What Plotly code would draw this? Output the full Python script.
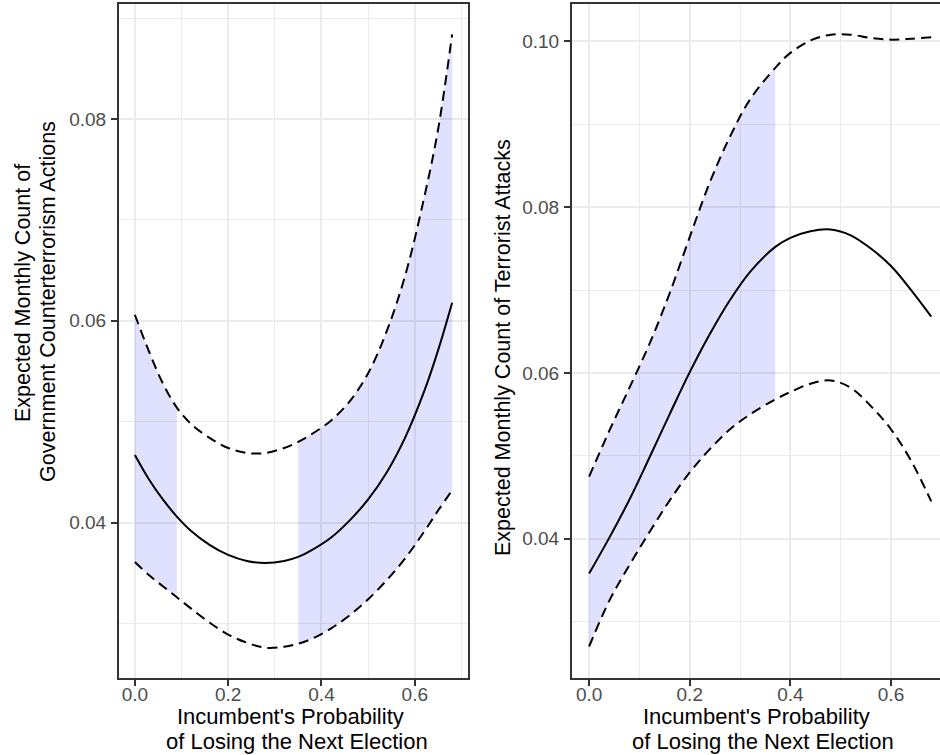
import plotly.graph_objects as go

# ---------------- data ----------------
# Left panel: government counterterrorism actions
left_x = [0.00, 0.03, 0.06, 0.09, 0.12, 0.16, 0.20, 0.24, 0.28, 0.32,
          0.35, 0.38, 0.42, 0.46, 0.50, 0.54, 0.58, 0.62, 0.65, 0.68]
left_mean = [0.0467, 0.0443, 0.0423, 0.0406, 0.0392, 0.0378, 0.0368, 0.0362, 0.0360, 0.0362,
             0.0366, 0.0373, 0.0385, 0.0402, 0.0423, 0.0450, 0.0485, 0.0530, 0.0571, 0.0618]
left_upper = [0.0606, 0.0570, 0.0538, 0.0514, 0.0498, 0.0484, 0.0474, 0.0469, 0.0469, 0.0474,
              0.0480, 0.0488, 0.0501, 0.0520, 0.0548, 0.0590, 0.0646, 0.0722, 0.0790, 0.0884]
left_lower = [0.0361, 0.0348, 0.0337, 0.0326, 0.0315, 0.0301, 0.0289, 0.0281, 0.0276, 0.0277,
              0.0280, 0.0285, 0.0295, 0.0308, 0.0324, 0.0343, 0.0365, 0.0391, 0.0412, 0.0432]
left_sig_ranges = [(0.00, 0.09), (0.35, 0.68)]

# Right panel: terrorist attacks
right_x = [0.00, 0.04, 0.08, 0.12, 0.16, 0.20, 0.24, 0.28, 0.32,
           0.37, 0.40, 0.44, 0.48, 0.52, 0.56, 0.60, 0.64, 0.68]
right_mean = [0.0358, 0.0401, 0.0447, 0.0498, 0.0550, 0.0601, 0.0647, 0.0688, 0.0722,
              0.0752, 0.0763, 0.0771, 0.0773, 0.0766, 0.0750, 0.0729, 0.0700, 0.0668]
right_upper = [0.0475, 0.0530, 0.0582, 0.0635, 0.0696, 0.0764, 0.0830, 0.0885, 0.0930,
               0.0968, 0.0986, 0.1001, 0.1008, 0.1008, 0.1004, 0.1002, 0.1003, 0.1005]
right_lower = [0.0270, 0.0325, 0.0368, 0.0408, 0.0446, 0.0480, 0.0508, 0.0532, 0.0550,
               0.0568, 0.0577, 0.0587, 0.0591, 0.0582, 0.0560, 0.0532, 0.0494, 0.0445]
right_sig_ranges = [(0.00, 0.37)]

x_tick_vals = [0.0, 0.2, 0.4, 0.6]
x_tick_text = ["0.0", "0.2", "0.4", "0.6"]
left_y_ticks = [0.04, 0.06, 0.08]
right_y_ticks = [0.04, 0.06, 0.08, 0.10]

x_title_1 = "Incumbent's Probability"
x_title_2 = "of Losing the Next Election"
left_y_title_1 = "Expected Monthly Count of"
left_y_title_2 = "Government Counterterrorism Actions"
right_y_title = "Expected Monthly Count of Terrorist Attacks"

# ---------------- styling ----------------
W, H = 940, 755
FONT = "Liberation Sans, Arial, sans-serif"
FILL = "rgba(0,0,255,0.12)"
LINE_COL = "black"
GRID = "#EBEBEB"
BORDER = "#333333"


def px_x(p):
    return p / W


def px_y(p):
    return 1 - p / H


fig = go.Figure()


def add_panel(xs, mean, upper, lower, ranges, xa, ya):
    for lo, hi in ranges:
        idx = [i for i, v in enumerate(xs) if lo - 1e-9 <= v <= hi + 1e-9]
        sx = [xs[i] for i in idx]
        fig.add_trace(go.Scatter(x=sx, y=[lower[i] for i in idx], mode="lines",
                                 line=dict(width=0, shape="spline"), hoverinfo="skip",
                                 showlegend=False, xaxis=xa, yaxis=ya))
        fig.add_trace(go.Scatter(x=sx, y=[upper[i] for i in idx], mode="lines",
                                 line=dict(width=0, shape="spline"), fill="tonexty",
                                 fillcolor=FILL, hoverinfo="skip",
                                 showlegend=False, xaxis=xa, yaxis=ya))
    for ys, dash in ((upper, "10px,6px"), (lower, "10px,6px"), (mean, "solid")):
        fig.add_trace(go.Scatter(x=xs, y=ys, mode="lines",
                                 line=dict(color=LINE_COL, width=2, dash=dash, shape="spline"),
                                 showlegend=False, xaxis=xa, yaxis=ya))


add_panel(left_x, left_mean, left_upper, left_lower, left_sig_ranges, "x", "y")
add_panel(right_x, right_mean, right_upper, right_lower, right_sig_ranges, "x2", "y2")

tickfont = dict(family=FONT, size=19, color="#4D4D4D")
common_x = dict(tickvals=x_tick_vals, ticktext=x_tick_text, ticks="outside", ticklen=6,
                tickwidth=2, tickcolor=BORDER, showgrid=True, gridcolor=GRID, gridwidth=2,
                zeroline=False, showline=True, linecolor=BORDER, linewidth=2,
                tickfont=tickfont, ticklabelstandoff=-8,
                minor=dict(dtick=0.1, tick0=0, showgrid=True, gridcolor=GRID, gridwidth=1,
                           ticks=""))
common_y = dict(ticks="outside", ticklen=6, tickwidth=2, tickcolor=BORDER,
                showgrid=True, gridcolor=GRID, gridwidth=2, zeroline=False,
                showline=True, linecolor=BORDER, linewidth=2, tickfont=tickfont,
                tickformat=".2f", ticklabelstandoff=1,
                minor=dict(dtick=0.01, tick0=0, showgrid=True, gridcolor=GRID, gridwidth=1,
                           ticks=""))

fig.update_layout(
    width=W, height=H, margin=dict(l=0, r=0, t=0, b=0),
    paper_bgcolor="white", plot_bgcolor="white",
    xaxis=dict(domain=[px_x(119), px_x(468)], range=[-0.034, 0.714], mirror=True,
               anchor="y", **common_x),
    yaxis=dict(domain=[px_y(678), px_y(4)], range=[0.0246, 0.0914], tickvals=left_y_ticks,
               mirror=True, anchor="x", **common_y),
    xaxis2=dict(domain=[px_x(572), 1.0], range=[-0.034, 0.6974], mirror=True,
                anchor="y2", **common_x),
    yaxis2=dict(domain=[px_y(678), px_y(4)], range=[0.0232, 0.1045], tickvals=right_y_ticks,
                mirror=False, anchor="x2", **common_y),
    showlegend=False,
)

title_font = dict(family=FONT, size=22, color="black")
ytitle_font = dict(family=FONT, size=21.5, color="black")
ann = []
for cx1, cx2 in ((290, 296.5), (756.5, 763.3)):
    ann.append(dict(text=x_title_1, x=px_x(cx1), y=px_y(716.5), xref="paper", yref="paper",
                    xanchor="center", yanchor="middle", showarrow=False, font=title_font))
    ann.append(dict(text=x_title_2, x=px_x(cx2), y=px_y(741.5), xref="paper", yref="paper",
                    xanchor="center", yanchor="middle", showarrow=False, font=title_font))
ann.append(dict(text=left_y_title_1, x=px_x(23), y=px_y(293), xref="paper", yref="paper",
                xanchor="center", yanchor="middle", textangle=-90, showarrow=False,
                font=ytitle_font))
ann.append(dict(text=left_y_title_2, x=px_x(48), y=px_y(302), xref="paper", yref="paper",
                xanchor="center", yanchor="middle", textangle=-90, showarrow=False,
                font=ytitle_font))
ann.append(dict(text=right_y_title, x=px_x(503), y=px_y(347), xref="paper", yref="paper",
                xanchor="center", yanchor="middle", textangle=-90, showarrow=False,
                font=ytitle_font))
fig.update_layout(annotations=ann)

fig.write_html("out.html", config={"displayModeBar": False},
               post_script="document.body.style.margin='0px';"
                           "document.body.style.overflow='hidden';")
